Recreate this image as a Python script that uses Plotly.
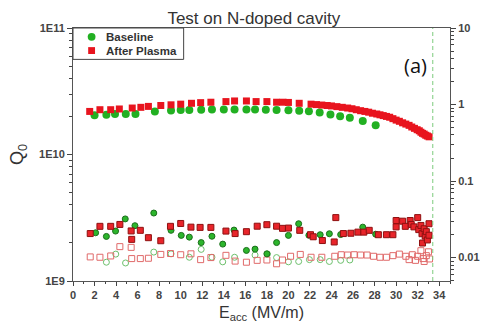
import plotly.graph_objects as go

# Q0 vs accelerating field (left axis)
base_e = [2.0, 3.1, 3.9, 4.9, 5.8, 7.6, 9.1, 10.0, 10.8, 11.9, 12.9, 14.0, 15.0,
          16.1, 16.9, 17.9, 18.9, 20.0, 21.0, 21.9, 22.9, 23.9, 24.8, 25.7, 26.9, 28.1]
base_q = [2.04e10, 2.06e10, 2.09e10, 2.09e10, 2.09e10, 2.19e10, 2.23e10, 2.25e10,
          2.25e10, 2.26e10, 2.27e10, 2.27e10, 2.27e10, 2.27e10, 2.27e10, 2.26e10,
          2.25e10, 2.24e10, 2.22e10, 2.20e10, 2.15e10, 2.07e10, 2.01e10, 1.95e10,
          1.84e10, 1.70e10]

plasma_e = [1.55, 2.5, 3.5, 4.3, 5.5, 6.3, 7.0, 8.15, 9.1, 10.0, 11.0, 11.85, 12.8,
            14.2, 15.0, 16.1, 17.0, 18.0, 18.9, 19.5, 20.0, 21.0, 22.1, 22.6, 23.1,
            23.6, 24.0, 24.5, 25.0, 25.5, 25.9, 26.3, 26.7, 27.1, 27.45, 27.8, 28.2,
            28.5, 28.8, 29.1, 29.4, 29.7, 30.0, 30.3, 30.6, 30.9, 31.2, 31.45, 31.7,
            31.95, 32.15, 32.3, 32.45, 32.6, 32.75, 32.9, 33.06]
plasma_q = [2.19e10, 2.26e10, 2.26e10, 2.29e10, 2.33e10, 2.36e10, 2.40e10, 2.44e10,
            2.47e10, 2.50e10, 2.54e10, 2.57e10, 2.59e10, 2.62e10, 2.65e10, 2.65e10,
            2.62e10, 2.62e10, 2.59e10, 2.59e10, 2.58e10, 2.54e10, 2.50e10, 2.48e10,
            2.46e10, 2.44e10, 2.42e10, 2.39e10, 2.36e10, 2.33e10, 2.30e10, 2.26e10,
            2.22e10, 2.19e10, 2.16e10, 2.12e10, 2.09e10, 2.06e10, 2.03e10, 2.00e10,
            1.97e10, 1.92e10, 1.87e10, 1.83e10, 1.78e10, 1.74e10, 1.70e10, 1.65e10,
            1.61e10, 1.57e10, 1.54e10, 1.50e10, 1.47e10, 1.45e10, 1.42e10, 1.40e10,
            1.38e10]

# Radiation readings (right axis), two detectors per test
base_rad1_e = [2.1, 3.1, 3.95, 4.85, 5.75, 7.5, 9.1, 10.05, 10.8, 11.9, 12.9, 13.9,
               14.95, 16.1, 16.9, 18.0, 18.9, 20.0, 20.95, 21.9, 22.95, 23.8, 24.85,
               26.9, 28.1]
base_rad1_v = [0.0211, 0.0189, 0.0222, 0.0320, 0.0261, 0.0382, 0.0227, 0.0195,
               0.0185, 0.0157, 0.0190, 0.0150, 0.0229, 0.0124, 0.0129, 0.0112,
               0.0157, 0.0195, 0.0277, 0.0196, 0.0199, 0.0205, 0.0200, 0.0250,
               0.0202]

base_rad2_e = [3.1, 3.97, 4.88, 7.5, 9.1, 10.8, 11.9, 12.9, 13.9, 15.0, 16.9, 18.05,
               18.9, 20.0, 20.95, 21.95, 22.95, 23.8, 24.85, 25.7]
base_rad2_v = [0.0087, 0.0111, 0.0085, 0.0118, 0.0112, 0.0101, 0.0128, 0.0101,
               0.0088, 0.0101, 0.0108, 0.0111, 0.0100, 0.0088, 0.0089, 0.0094,
               0.0094, 0.0089, 0.0092, 0.0093]

plasma_rad1_e = [1.6, 2.5, 3.5, 4.35, 5.4, 5.45, 6.25, 7.0, 8.15, 9.05, 10.0, 10.95,
                 11.8, 12.8, 14.2, 15.05, 16.1, 17.1, 18.0, 18.9, 19.45, 20.0, 21.05,
                 22.05, 22.3, 23.15, 24.25, 24.4, 25.1, 25.8, 26.45, 27.0, 27.5,
                 28.35, 29.1, 29.7, 30.0, 30.0, 30.6, 30.85, 31.3, 31.4, 31.65, 32.0,
                 32.1, 32.3, 32.4, 32.45, 32.6, 32.7, 32.8, 32.9, 33.05, 33.05]
plasma_rad1_v = [0.0206, 0.0256, 0.0256, 0.0271, 0.0223, 0.0173, 0.0227, 0.0182,
                 0.0166, 0.0256, 0.0279, 0.0250, 0.0248, 0.0248, 0.0222, 0.0206,
                 0.0218, 0.0257, 0.0269, 0.0257, 0.0241, 0.0243, 0.0227, 0.0199,
                 0.0187, 0.0167, 0.0160, 0.0333, 0.0206, 0.0208, 0.0215, 0.0215,
                 0.0227, 0.0199, 0.0199, 0.0199, 0.0305, 0.0252, 0.0299, 0.0256,
                 0.0305, 0.0271, 0.0252, 0.0333, 0.0232, 0.0263, 0.0205, 0.0155,
                 0.0238, 0.0191, 0.0218, 0.0170, 0.0277, 0.0196]

plasma_rad2_e = [1.6, 2.5, 3.5, 4.35, 5.4, 5.45, 6.25, 7.0, 8.15, 9.05, 10.0, 10.95,
                 11.85, 12.8, 14.2, 15.05, 16.1, 17.1, 18.0, 18.9, 19.45, 20.2, 21.1,
                 22.1, 23.1, 24.3, 24.9, 25.5, 26.1, 26.7, 27.3, 27.9, 28.5, 29.1,
                 29.7, 30.3, 30.9, 31.2, 31.5, 31.8, 32.0, 32.3, 32.5, 32.6, 32.8,
                 33.0, 33.1]
plasma_rad2_v = [0.0102, 0.0101, 0.0105, 0.0139, 0.0136, 0.0097, 0.0097, 0.0098,
                 0.0110, 0.0113, 0.0109, 0.0112, 0.0094, 0.0100, 0.0107, 0.0090,
                 0.0087, 0.0092, 0.0093, 0.0083, 0.0093, 0.0104, 0.0110, 0.0101,
                 0.0101, 0.0104, 0.0109, 0.0108, 0.0109, 0.0108, 0.0108, 0.0104,
                 0.0101, 0.0101, 0.0106, 0.0111, 0.0104, 0.0094, 0.0109, 0.0092,
                 0.0104, 0.0123, 0.0097, 0.0089, 0.0106, 0.0119, 0.0096]

x_ticks = list(range(0, 35, 2))
q_ticks = [1e9, 1e10, 1e11]
q_labels = ["<b>1E9</b>", "<b>1E10</b>", "<b>1E11</b>"]
r_ticks = [0.01, 0.1, 1, 10]
r_labels = ["<b>0.01</b>", "<b>0.1</b>", "<b>1</b>", "<b>10</b>"]
quench_field = 33.4
legend_names = ["Baseline", "After Plasma"]

GREEN = "#22b022"
RED = "#e8141e"
TXT = "#333333"

fig = go.Figure()

fig.add_trace(go.Scatter(x=base_rad2_e, y=base_rad2_v, yaxis="y2", mode="markers",
                         marker=dict(symbol="circle-open", size=6, color="#6cc06c",
                                     line=dict(color="#6cc06c", width=1))))
fig.add_trace(go.Scatter(x=plasma_rad2_e, y=plasma_rad2_v, yaxis="y2", mode="markers",
                         marker=dict(symbol="square-open", size=6, color="#e06a6a",
                                     line=dict(color="#e06a6a", width=1))))
fig.add_trace(go.Scatter(x=base_rad1_e, y=base_rad1_v, yaxis="y2", mode="markers",
                         marker=dict(symbol="circle", size=6, color="#2cb52c",
                                     line=dict(color="#1b6f1b", width=1))))
fig.add_trace(go.Scatter(x=plasma_rad1_e, y=plasma_rad1_v, yaxis="y2", mode="markers",
                         marker=dict(symbol="square", size=6, color="#e8242a",
                                     line=dict(color="#8e1010", width=1))))

fig.add_trace(go.Scatter(x=base_e, y=base_q, mode="markers", name=legend_names[0],
                         marker=dict(symbol="circle", size=8, color=GREEN)))
fig.add_trace(go.Scatter(x=plasma_e, y=plasma_q, mode="markers", name=legend_names[1],
                         marker=dict(symbol="square", size=7, color=RED)))

# quench limit marker
fig.add_shape(type="line", xref="x", yref="paper", x0=quench_field, x1=quench_field,
              y0=0, y1=1, line=dict(color="#7ccc7c", width=1, dash="4px,3px"))

# compact legend box in the upper-left corner
PW, PH = 385.0, 258.0   # plot area size in px
def px(dx):
    return dx / PW
def py(dy):
    return 1 - dy / PH

fig.add_shape(type="rect", xref="paper", yref="paper", x0=0, x1=px(113),
              y0=py(32), y1=1, line=dict(color="#444444", width=1),
              fillcolor="white", layer="above")
fig.add_shape(type="circle", xref="paper", yref="paper",
              x0=px(15), x1=px(23), y0=py(13), y1=py(5),
              line=dict(width=0), fillcolor=GREEN, layer="above")
fig.add_shape(type="rect", xref="paper", yref="paper",
              x0=px(15.5), x1=px(22.5), y0=py(26.5), y1=py(19.5),
              line=dict(width=0), fillcolor=RED, layer="above")
for i, name in enumerate(legend_names):
    fig.add_annotation(x=px(32), y=py(9 + 14 * i), xref="paper", yref="paper",
                       text="<b>%s</b>" % name, showarrow=False, xanchor="left",
                       yanchor="middle", font=dict(size=11.5, color=TXT))

fig.add_annotation(x=31.8, y=0.915, xref="x", yref="paper", text="(a)",
                   showarrow=False, font=dict(family="Open Sans", size=20, color="#111111"))

fig.update_layout(
    width=492, height=330,
    margin=dict(l=73, r=34, t=28, b=44),
    paper_bgcolor="white", plot_bgcolor="white",
    showlegend=False,
    font=dict(family="Liberation Sans, Arial", color=TXT, size=11),
    title=dict(text="Test on N-doped cavity", x=0.516, xanchor="center",
               y=0.945, yanchor="middle",
               font=dict(size=17, color=TXT)),
    xaxis=dict(range=[0, 35], tickvals=x_ticks,
               ticktext=["<b>%d</b>" % v for v in x_ticks],
               ticks="outside", ticklen=4,
               tickcolor="#444", showline=True, linecolor="#555", linewidth=1,
               mirror=True, showgrid=False, zeroline=False,
               tickfont=dict(size=11, color="#444"),
               minor=dict(dtick=1, ticks="outside", ticklen=2, tickcolor="#444"),
               title=dict(text="E<sub>acc</sub> (MV/m)", font=dict(size=16, color=TXT),
                          standoff=6)),
    yaxis=dict(type="log", range=[9, 11], tickvals=q_ticks, ticktext=q_labels,
               ticks="outside", ticklen=5, tickcolor="#444", showline=True,
               linecolor="#555", linewidth=1, showgrid=False, zeroline=False,
               tickfont=dict(size=11, color="#444"),
               minor=dict(tickvals=[k * 10 ** d for d in (9, 10) for k in range(2, 10)],
                          ticks="outside", ticklen=3, tickcolor="#444"),
               title=dict(text="Q<sub>0</sub>", font=dict(size=18, color=TXT),
                          standoff=10)),
    yaxis2=dict(type="log", overlaying="y", side="right", range=[-2.306, 1],
                tickvals=r_ticks, ticktext=r_labels, ticks="outside", ticklen=5,
                tickcolor="#444", showline=True, linecolor="#555", linewidth=1,
                showgrid=False, zeroline=False,
                tickfont=dict(size=11, color="#444"),
                minor=dict(tickvals=[k * 10 ** d for d in (-3, -2, -1, 0) for k in range(2, 10)
                                     if 10 ** -2.306 < k * 10 ** d < 10],
                           ticks="outside", ticklen=3, tickcolor="#444")),
)

fig.write_html("out.html")
